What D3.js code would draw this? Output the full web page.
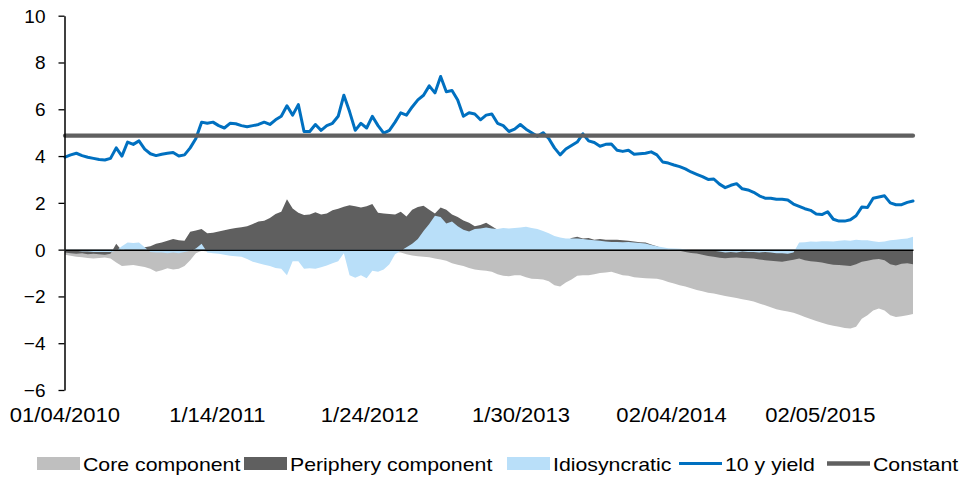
<!DOCTYPE html>
<html><head><meta charset="utf-8">
<script src="https://cdn.jsdelivr.net/npm/d3@7"></script>
<style>html,body{margin:0;padding:0;background:#fff;} svg{display:block;font-family:"Liberation Sans",Arial,sans-serif;}</style>
</head><body><svg id="chart" width="967" height="477"></svg>
<script>
const dates = [
"2010-01-04","2010-01-18","2010-02-01","2010-02-15","2010-03-01","2010-03-15","2010-03-29","2010-04-12","2010-04-26","2010-05-10","2010-05-24","2010-06-07","2010-06-21","2010-07-05","2010-07-19","2010-08-02","2010-08-16","2010-08-30","2010-09-13","2010-09-27","2010-10-11","2010-10-25","2010-11-08","2010-11-22","2010-12-06","2010-12-20",
"2011-01-03","2011-01-17","2011-01-31","2011-02-14","2011-02-28","2011-03-14","2011-03-28","2011-04-11","2011-04-25","2011-05-09","2011-05-23","2011-06-06","2011-06-20","2011-07-04","2011-07-18","2011-08-01","2011-08-15","2011-08-29","2011-09-12","2011-09-26","2011-10-10","2011-10-24","2011-11-07","2011-11-21","2011-12-05","2011-12-19",
"2012-01-02","2012-01-16","2012-01-30","2012-02-13","2012-02-27","2012-03-12","2012-03-26","2012-04-09","2012-04-23","2012-05-07","2012-05-21","2012-06-04","2012-06-18","2012-07-02","2012-07-16","2012-07-30","2012-08-13","2012-08-27","2012-09-10","2012-09-24","2012-10-08","2012-10-22","2012-11-05","2012-11-19","2012-12-03","2012-12-17","2012-12-31",
"2013-01-14","2013-01-28","2013-02-11","2013-02-25","2013-03-11","2013-03-25","2013-04-08","2013-04-22","2013-05-06","2013-05-20","2013-06-03","2013-06-17","2013-07-01","2013-07-15","2013-07-29","2013-08-12","2013-08-26","2013-09-09","2013-09-23","2013-10-07","2013-10-21","2013-11-04","2013-11-18","2013-12-02","2013-12-16","2013-12-30",
"2014-01-13","2014-01-27","2014-02-10","2014-02-24","2014-03-10","2014-03-24","2014-04-07","2014-04-21","2014-05-05","2014-05-19","2014-06-02","2014-06-16","2014-06-30","2014-07-14","2014-07-28","2014-08-11","2014-08-25","2014-09-08","2014-09-22","2014-10-06","2014-10-20","2014-11-03","2014-11-17","2014-12-01","2014-12-15","2014-12-29",
"2015-01-12","2015-01-26","2015-02-09","2015-02-23","2015-03-09","2015-03-23","2015-04-06","2015-04-20","2015-05-04","2015-05-18","2015-06-01","2015-06-15","2015-06-29","2015-07-13","2015-07-27","2015-08-10","2015-08-24","2015-09-07","2015-09-21"
];

const coreComponent = [
-0.22,-0.26,-0.3,-0.33,-0.36,-0.38,-0.36,-0.34,-0.38,-0.55,
-0.7,-0.68,-0.66,-0.7,-0.74,-0.82,-0.95,-0.88,-0.8,-0.85,
-0.82,-0.7,-0.45,-0.15,-0.05,-0.08,-0.1,-0.12,-0.15,-0.18,
-0.2,-0.22,-0.25,-0.28,-0.3,-0.3,-0.32,-0.35,-0.35,-0.38,
-0.35,-0.35,-0.38,-0.4,-0.4,-0.42,-0.4,-0.38,-0.35,-0.1,
-0.4,-0.42,-0.4,-0.42,-0.4,-0.38,-0.35,-0.3,-0.1,-0.12,
-0.2,-0.25,-0.28,-0.3,-0.33,-0.38,-0.42,-0.48,-0.58,-0.65,
-0.7,-0.78,-0.85,-0.88,-0.9,-0.95,-1.05,-1.12,-1.14,-1.1,
-1.1,-1.18,-1.24,-1.26,-1.28,-1.35,-1.52,-1.58,-1.4,-1.28,
-1.12,-1.1,-1.09,-1.05,-1.0,-0.98,-0.95,-1.02,-1.09,-1.12,
-1.18,-1.2,-1.22,-1.23,-1.24,-1.3,-1.38,-1.45,-1.52,-1.58,
-1.65,-1.72,-1.78,-1.84,-1.88,-1.93,-1.98,-2.02,-2.07,-2.12,
-2.16,-2.22,-2.3,-2.38,-2.46,-2.55,-2.6,-2.64,-2.7,-2.78,
-2.88,-2.97,-3.05,-3.12,-3.2,-3.25,-3.3,-3.35,-3.37,-3.3,
-2.95,-2.8,-2.6,-2.52,-2.6,-2.8,-2.88,-2.85,-2.8,-2.75
];

const peripheryComponent = [
-0.12,-0.15,-0.18,-0.15,-0.2,-0.18,-0.2,-0.22,-0.18,0.25,
-0.05,0.1,0.18,0.15,0.1,0.15,0.25,0.3,0.38,0.45,
0.4,0.38,0.76,0.82,0.88,0.7,0.72,0.78,0.83,0.88,
0.92,0.96,1.0,1.1,1.2,1.24,1.35,1.52,1.62,2.15,
1.76,1.58,1.48,1.5,1.6,1.5,1.55,1.68,1.75,1.83,
1.9,1.85,1.8,1.85,1.95,1.58,1.55,1.52,1.5,1.62,
1.42,1.7,1.82,1.88,1.7,1.55,1.8,1.7,1.5,1.4,
1.25,1.15,1.0,1.05,1.15,1.0,0.85,0.7,0.6,0.55,
0.5,0.45,0.42,0.4,0.38,0.35,0.32,0.3,0.35,0.5,
0.55,0.48,0.5,0.42,0.45,0.42,0.42,0.42,0.4,0.38,
0.35,0.32,0.3,0.22,0.15,0.05,0.0,-0.02,-0.05,-0.1,
-0.14,-0.17,-0.22,-0.27,-0.3,-0.35,-0.37,-0.35,-0.34,-0.36,
-0.37,-0.38,-0.42,-0.45,-0.47,-0.5,-0.52,-0.48,-0.43,-0.38,
-0.45,-0.5,-0.52,-0.55,-0.6,-0.65,-0.66,-0.68,-0.7,-0.62,
-0.52,-0.48,-0.42,-0.4,-0.45,-0.62,-0.68,-0.6,-0.58,-0.62
];

const idiosyncratic = [
-0.05,-0.05,-0.05,-0.08,-0.08,-0.1,-0.1,-0.1,-0.1,-0.05,
0.15,0.3,0.28,0.3,0.1,-0.1,-0.12,-0.12,-0.15,-0.12,
-0.15,-0.1,-0.05,0.05,0.25,-0.12,-0.15,-0.18,-0.22,-0.26,
-0.28,-0.3,-0.4,-0.52,-0.58,-0.65,-0.7,-0.78,-0.82,-1.1,
-0.5,-0.5,-0.82,-0.8,-0.82,-0.75,-0.68,-0.58,-0.5,-0.15,
-1.1,-1.2,-1.1,-1.22,-0.9,-0.95,-0.85,-0.62,-0.2,-0.05,
0.1,0.25,0.45,0.8,1.1,1.45,1.4,1.12,1.2,1.0,
0.85,0.78,0.88,0.9,0.95,0.9,0.88,0.92,0.9,0.92,
0.95,0.98,0.92,0.88,0.8,0.7,0.58,0.52,0.48,0.48,
0.48,0.45,0.42,0.4,0.38,0.35,0.33,0.33,0.32,0.33,
0.3,0.28,0.26,0.2,0.14,0.1,0.06,0.05,0.04,0.02,
0.0,0.0,-0.02,-0.03,-0.05,-0.08,-0.12,-0.1,-0.12,-0.08,
-0.1,-0.1,-0.12,-0.1,-0.12,-0.15,-0.15,-0.18,-0.12,0.3,
0.32,0.35,0.34,0.36,0.36,0.35,0.38,0.4,0.38,0.42,
0.4,0.4,0.36,0.33,0.35,0.4,0.42,0.45,0.48,0.55
];

const yield10y = [
3.95,4.05,4.12,4.02,3.95,3.9,3.85,3.83,3.9,4.35,
4.0,4.6,4.5,4.65,4.3,4.1,4.02,4.08,4.12,4.15,
4.0,4.05,4.35,4.75,5.45,5.4,5.45,5.3,5.2,5.4,
5.38,5.3,5.25,5.3,5.35,5.45,5.35,5.55,5.7,6.15,
5.75,6.2,5.05,5.05,5.35,5.1,5.3,5.4,5.7,6.6,
5.9,5.1,5.4,5.2,5.7,5.3,4.98,5.1,5.45,5.85,
5.75,6.1,6.4,6.6,7.0,6.7,7.4,6.75,6.8,6.4,
5.7,5.85,5.8,5.55,5.75,5.8,5.4,5.3,5.05,5.15,
5.35,5.15,5.0,4.85,5.0,4.75,4.35,4.05,4.3,4.45,
4.6,4.95,4.65,4.58,4.42,4.5,4.52,4.25,4.2,4.25,
4.08,4.1,4.12,4.18,4.05,3.75,3.7,3.62,3.55,3.45,
3.32,3.22,3.12,3.0,3.02,2.8,2.65,2.75,2.82,2.6,
2.55,2.45,2.3,2.2,2.2,2.15,2.15,2.12,1.95,1.85,
1.75,1.68,1.52,1.5,1.62,1.3,1.22,1.22,1.28,1.45,
1.82,1.8,2.2,2.25,2.3,2.0,1.92,1.92,2.02,2.08
];

const constantLevel = 4.87;
const yTicks = [-6, -4, -2, 0, 2, 4, 6, 8, 10];
const xTickDates = ["2010-01-04", "2011-01-14", "2012-01-24", "2013-01-30", "2014-02-04", "2015-02-05"];
const xTickLabels = ["01/04/2010", "1/14/2011", "1/24/2012", "1/30/2013", "02/04/2014", "02/05/2015"];
const seriesNames = ["Core component", "Periphery component", "Idiosyncratic", "10 y yield", "Constant"];

const colors = {core: "#bfbfbf", periph: "#5f5f5f", idio: "#b9dff9", yld: "#0070c0", constant: "#606060"};

const parse = d3.timeParse("%Y-%m-%d");
const dts = dates.map(parse);
const svg = d3.select("#chart");

const x = d3.scaleTime().domain([dts[0], dts[dts.length - 1]]).range([65, 913]);
const y = d3.scaleLinear().domain([-6, 10]).range([390, 15.7]);

function stretch(sel, k) {
  sel.each(function () {
    const w = this.getComputedTextLength();
    this.setAttribute("textLength", (w * k).toFixed(1));
    this.setAttribute("lengthAdjust", "spacingAndGlyphs");
  });
}

const area = vals => d3.area()
  .x((d, i) => x(dts[i]))
  .y0(y(0))
  .y1(d => y(d))(vals);

svg.append("path").attr("d", area(coreComponent)).attr("fill", colors.core);
svg.append("path").attr("d", area(peripheryComponent)).attr("fill", colors.periph);
svg.append("path").attr("d", area(idiosyncratic)).attr("fill", colors.idio);

// zero (category) axis
const xAxisG = svg.append("g").attr("transform", `translate(0,${y(0)})`)
  .call(d3.axisBottom(x).tickValues([]).tickSizeOuter(0));
xAxisG.select(".domain").attr("stroke", "#000").attr("stroke-width", 1.5);

// yield line
const line = d3.line().x((d, i) => x(dts[i])).y(d => y(d)).curve(d3.curveLinear);
svg.append("path").attr("d", line(yield10y))
  .attr("fill", "none").attr("stroke", colors.yld).attr("stroke-width", 3)
  .attr("stroke-linejoin", "round").attr("stroke-linecap", "round");

// constant line
svg.append("path")
  .attr("d", d3.line().x(d => x(d)).y(() => y(constantLevel))([dts[0], dts[dts.length - 1]]))
  .attr("fill", "none").attr("stroke", colors.constant).attr("stroke-width", 4.2)
  .attr("stroke-linecap", "round");

// y axis
const yAxisG = svg.append("g").attr("transform", "translate(64.5,0)")
  .call(d3.axisLeft(y).tickValues(yTicks).tickSize(6).tickSizeOuter(0).tickPadding(13).tickFormat(d3.format("d")));
yAxisG.select(".domain").attr("stroke", "#000").attr("stroke-width", 1.5);
yAxisG.selectAll(".tick line").attr("stroke", "#000").attr("stroke-width", 1.3);
yAxisG.selectAll(".tick text").attr("font-size", 19).attr("fill", "#000")
  .attr("font-family", "'Liberation Sans', Arial, sans-serif").attr("dy", "0.34em");

// x tick labels (category labels at the bottom)
const xl = svg.append("g").selectAll("text").data(xTickDates).join("text")
  .attr("x", d => x(parse(d))).attr("y", 422)
  .attr("text-anchor", "middle").attr("font-size", 19.5).attr("fill", "#000")
  .text((d, i) => xTickLabels[i]);
stretch(xl, 1.13);

// legend
const legendX = [37, 244, 507, 679, 827];
const legendKinds = ["rect", "rect", "rect", "line", "line"];
const legendColors = [colors.core, colors.periph, colors.idio, colors.yld, colors.constant];
const lg = svg.append("g");
seriesNames.forEach((name, i) => {
  const x0 = legendX[i];
  if (legendKinds[i] === "rect") {
    lg.append("rect").attr("x", x0).attr("y", 457).attr("width", 43).attr("height", 13).attr("fill", legendColors[i]);
  } else {
    lg.append("line").attr("x1", x0).attr("x2", x0 + 43).attr("y1", 463.5).attr("y2", 463.5)
      .attr("stroke", legendColors[i]).attr("stroke-width", i === 3 ? 3 : 4.5);
  }
  const t = lg.append("text").attr("x", x0 + 46).attr("y", 470.5).attr("font-size", 19).attr("fill", "#000").text(name);
  stretch(t, 1.12);
});
</script>
</body></html>
